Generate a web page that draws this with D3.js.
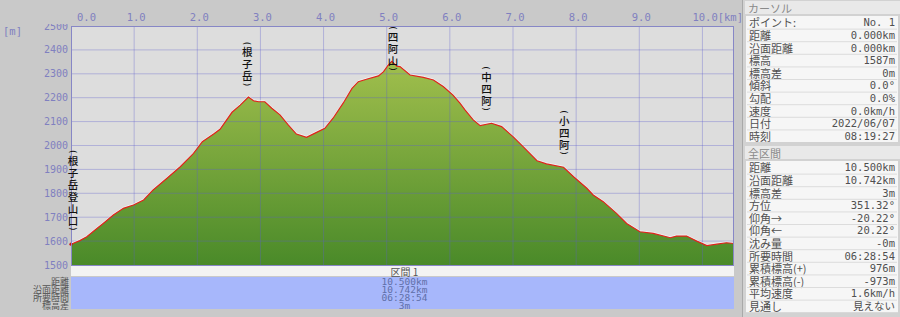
<!DOCTYPE html>
<html>
<head>
<meta charset="utf-8">
<script src="https://cdn.jsdelivr.net/npm/d3@7"></script>
<style>
  html, body { margin: 0; padding: 0; background: #c9c9c9; }
  svg { display: block; }
</style>
</head>
<body>
<svg id="chart" width="900" height="317"></svg>
<script>
// profile: distance [km] and elevation [m]
const distKm = [0.00, 0.14, 0.25, 0.41, 0.51, 0.67, 0.83, 0.99, 1.15, 1.30, 1.52, 1.73, 1.94, 2.08, 2.27, 2.36,
  2.55, 2.68, 2.81, 2.89, 2.97, 3.07, 3.18, 3.31, 3.44, 3.57, 3.73, 3.89, 4.02, 4.15, 4.31, 4.45, 4.55, 4.68,
  4.87, 4.95, 5.02, 5.08, 5.16, 5.21, 5.37, 5.58, 5.74, 5.90, 6.05, 6.16, 6.24, 6.37, 6.48, 6.66, 6.82, 7.00,
  7.16, 7.38, 7.53, 7.80, 7.96, 8.17, 8.27, 8.43, 8.64, 8.80, 9.01, 9.22, 9.49, 9.59, 9.75, 9.91, 10.07, 10.23,
  10.38, 10.50];
const elevM = [1587, 1602, 1618, 1653, 1674, 1709, 1737, 1751, 1772, 1814, 1863, 1911, 1967, 2016, 2050, 2068,
  2139, 2169, 2203, 2187, 2183, 2183, 2156, 2128, 2086, 2048, 2034, 2055, 2072, 2114, 2177, 2239, 2267, 2277,
  2291, 2309, 2335, 2352, 2332, 2330, 2295, 2285, 2274, 2246, 2211, 2177, 2149, 2107, 2083, 2093, 2079, 2037,
  1995, 1936, 1923, 1909, 1869, 1821, 1793, 1765, 1716, 1674, 1639, 1632, 1614, 1621, 1621, 1600, 1581, 1587,
  1593, 1590];

const xTicks = [0, 1, 2, 3, 4, 5, 6, 7, 8, 9, 10];
const yTicks = [1500, 1600, 1700, 1800, 1900, 2000, 2100, 2200, 2300, 2400, 2500];

// waypoint labels (vertical text): name, km, elevation of label top
const wpNames = ["根子岳登山口", "根子岳", "四阿山", "中四阿", "小四阿"];
const wpKm = [0.03, 2.79, 5.10, 6.58, 7.81];
const wpTop = [1974, 2427, 2492, 2324, 2140];

// side panel
const cursorTitle = "カーソル";
const cursorLabels = ["ポイント:", "距離", "沿面距離", "標高", "標高差", "傾斜", "勾配", "速度", "日付", "時刻"];
const cursorValues = ["No. 1", "0.000km", "0.000km", "1587m", "0m", "0.0°", "0.0%", "0.0km/h", "2022/06/07", "08:19:27"];
const totalTitle = "全区間";
const totalLabels = ["距離", "沿面距離", "標高差", "方位", "仰角→", "仰角←", "沈み量", "所要時間",
  "累積標高(+)", "累積標高(-)", "平均速度", "見通し"];
const totalValues = ["10.500km", "10.742km", "3m", "351.32°", "-20.22°", "20.22°", "-0m", "06:28:54",
  "976m", "-973m", "1.6km/h", "見えない"];

// section band under the chart
const sectionTitle = "区間 1";
const bandLabels = ["距離", "沿面距離", "所要時間", "標高差"];
const bandValues = ["10.500km", "10.742km", "06:28:54", "3m"];

const mono = "'DejaVu Sans Mono', 'Liberation Mono', monospace";
const jp = "'Noto Sans CJK JP', 'Noto Sans', sans-serif";
const axisColor = "#8080c0";

const svg = d3.select("#chart");
const plot = { left: 71, right: 734, top: 26, bottom: 265 };

const x = d3.scaleLinear().domain([0, 10.5]).range([plot.left, plot.right]);
const y = d3.scaleLinear().domain([1500, 2500]).range([plot.bottom, plot.top]);

const pts = distKm.map((d, i) => ({ km: d, m: elevM[i] }));

const defs = svg.append("defs");
const grad = defs.append("linearGradient")
  .attr("id", "fillGrad")
  .attr("gradientUnits", "userSpaceOnUse")
  .attr("x1", 0).attr("x2", 0)
  .attr("y1", y(2500)).attr("y2", y(1500));
grad.append("stop").attr("offset", "0%").attr("stop-color", "#b0c853");
grad.append("stop").attr("offset", "100%").attr("stop-color", "#4a8a29");

defs.append("clipPath").attr("id", "yclip")
  .append("rect").attr("x", 0).attr("y", 24).attr("width", 70).attr("height", 260);

// plot background
svg.append("rect")
  .attr("x", plot.left).attr("y", plot.top)
  .attr("width", plot.right - plot.left).attr("height", plot.bottom - plot.top)
  .attr("fill", "#dddddd");

// filled profile
const area = d3.area()
  .x(d => x(d.km))
  .y0(y(1500))
  .y1(d => y(d.m));
svg.append("path").datum(pts)
  .attr("d", area)
  .attr("fill", "url(#fillGrad)");

// grid over the fill
const grid = svg.append("g");
grid.selectAll(".vg").data(xTicks.slice(1)).join("line")
  .attr("x1", d => x(d)).attr("x2", d => x(d))
  .attr("y1", plot.top).attr("y2", plot.bottom)
  .attr("stroke", "rgba(95,95,205,0.35)").attr("stroke-width", 1);
grid.selectAll(".hg").data(yTicks.slice(1, -1)).join("line")
  .attr("x1", plot.left).attr("x2", plot.right)
  .attr("y1", d => y(d)).attr("y2", d => y(d))
  .attr("stroke", "rgba(95,95,205,0.35)").attr("stroke-width", 1);

// profile line
const line = d3.line().x(d => x(d.km)).y(d => y(d.m));
svg.append("path").datum(pts)
  .attr("d", line)
  .attr("fill", "none")
  .attr("stroke", "rgba(255,255,255,0.55)")
  .attr("stroke-width", 1)
  .attr("transform", "translate(0,-1)");
svg.append("path").datum(pts)
  .attr("d", line)
  .attr("fill", "none")
  .attr("stroke", "#e0231b")
  .attr("stroke-width", 1.2);
svg.append("circle")
  .attr("cx", x(distKm[0])).attr("cy", y(elevM[0]))
  .attr("r", 1.6).attr("fill", "#d01010");

// border
svg.append("rect")
  .attr("x", plot.left + 0.5).attr("y", plot.top + 0.5)
  .attr("width", plot.right - plot.left - 1).attr("height", plot.bottom - plot.top)
  .attr("fill", "none").attr("stroke", "#8787c6");

// x tick labels
svg.append("g").selectAll("text").data(xTicks).join("text")
  .attr("x", d => d === 0 ? x(d) + 6 : (d === 10 ? x(d) - 10 : x(d) + 2))
  .attr("y", 17)
  .attr("text-anchor", d => d === 0 || d === 10 ? "start" : "middle")
  .attr("dominant-baseline", "central")
  .attr("font-family", mono).attr("font-size", 10.5)
  .attr("fill", axisColor)
  .text(d => d3.format(".1f")(d) + (d === 10 ? "[km]" : ""));

// y tick labels
svg.append("g").attr("clip-path", "url(#yclip)")
  .selectAll("text").data(yTicks).join("text")
  .attr("x", 68).attr("y", d => y(d))
  .attr("text-anchor", "end")
  .attr("dominant-baseline", "central")
  .attr("font-family", mono).attr("font-size", 10)
  .attr("fill", axisColor)
  .text(d => d);
svg.append("text")
  .attr("x", 3).attr("y", 31)
  .attr("dominant-baseline", "central")
  .attr("font-family", mono).attr("font-size", 10.5)
  .attr("fill", axisColor)
  .text("[m]");

// vertical waypoint labels, brackets turned for vertical writing
wpNames.forEach((name, i) => {
  const chars = ["(", ...name, ")"];
  const g = svg.append("g");
  const cx = x(wpKm[i]);
  let cy = y(wpTop[i]);
  chars.forEach((c, j) => {
    const bracket = j === 0 || j === chars.length - 1;
    if (j > 0) cy += (bracket || j === 1) ? 8.5 : 12;
    const t = g.append("text")
      .attr("text-anchor", "middle")
      .attr("dominant-baseline", "central")
      .attr("fill", "#111")
      .text(c);
    if (bracket) {
      t.attr("transform", `translate(${cx},${cy}) rotate(90)`)
        .attr("font-family", "'DejaVu Sans', sans-serif").attr("font-size", 9);
    } else {
      t.attr("x", cx).attr("y", cy)
        .attr("font-family", jp).attr("font-size", 10.5)
        .attr("font-weight", 500);
    }
  });
});

// section band
svg.append("rect")
  .attr("x", plot.left).attr("y", 266)
  .attr("width", plot.right - plot.left).attr("height", 10)
  .attr("fill", "#f3f3f3");
svg.append("text")
  .attr("x", (plot.left + plot.right) / 2 + 2).attr("y", 271.5)
  .attr("text-anchor", "middle").attr("dominant-baseline", "central")
  .attr("font-family", jp).attr("font-size", 10)
  .attr("fill", "#555")
  .text(sectionTitle);
svg.append("rect")
  .attr("x", plot.left).attr("y", 277)
  .attr("width", plot.right - plot.left).attr("height", 32)
  .attr("fill", "#a7b7fb");
svg.append("g").selectAll("text").data(bandValues).join("text")
  .attr("x", (plot.left + plot.right) / 2 + 2)
  .attr("y", (d, i) => 281 + i * 8)
  .attr("text-anchor", "middle").attr("dominant-baseline", "central")
  .attr("font-family", mono).attr("font-size", 9.5)
  .attr("fill", "#5f6fa8")
  .text(d => d);
svg.append("g").selectAll("text").data(bandLabels).join("text")
  .attr("x", 69)
  .attr("y", (d, i) => 281 + i * 8)
  .attr("text-anchor", "end").attr("dominant-baseline", "central")
  .attr("font-family", jp).attr("font-size", 9)
  .attr("fill", "#555")
  .text(d => d);

// side panel
const panel = svg.append("g");
panel.append("rect").attr("x", 742).attr("y", 0).attr("width", 158).attr("height", 317).attr("fill", "#d2d2d2");
panel.append("rect").attr("x", 742).attr("y", 0).attr("width", 1).attr("height", 317).attr("fill", "#a9a9a9");

function section(title, labels, values, top) {
  const rowH = 12.6;
  panel.append("rect")
    .attr("x", 745).attr("y", top).attr("width", 155).attr("height", 13)
    .attr("fill", "#e9e9e9");
  panel.append("text")
    .attr("x", 748).attr("y", top + 6.8)
    .attr("dominant-baseline", "central")
    .attr("font-family", jp).attr("font-size", 11)
    .attr("fill", "#8a8a8a")
    .text(title);
  const y0 = top + 15;
  panel.append("rect")
    .attr("x", 746).attr("y", y0).attr("width", 152).attr("height", labels.length * rowH)
    .attr("fill", "#f6f6f6");
  labels.forEach((lab, i) => {
    const ry = y0 + i * rowH;
    if (i > 0) {
      panel.append("line")
        .attr("x1", 747).attr("x2", 897)
        .attr("y1", ry + 0.5).attr("y2", ry + 0.5)
        .attr("stroke", "#dcdcdc");
    }
    panel.append("text")
      .attr("x", 749).attr("y", ry + rowH / 2)
      .attr("dominant-baseline", "central")
      .attr("font-family", jp).attr("font-size", 11)
      .attr("fill", "#505050")
      .text(lab);
    panel.append("text")
      .attr("x", 895).attr("y", ry + rowH / 2)
      .attr("text-anchor", "end")
      .attr("dominant-baseline", "central")
      .attr("font-family", /^[\x00-\x7f°]*$/.test(values[i]) ? mono : jp)
      .attr("font-size", 10.5)
      .attr("fill", "#505050")
      .text(values[i]);
  });
}
section(cursorTitle, cursorLabels, cursorValues, 1);
section(totalTitle, totalLabels, totalValues, 146);
</script>
</body>
</html>
